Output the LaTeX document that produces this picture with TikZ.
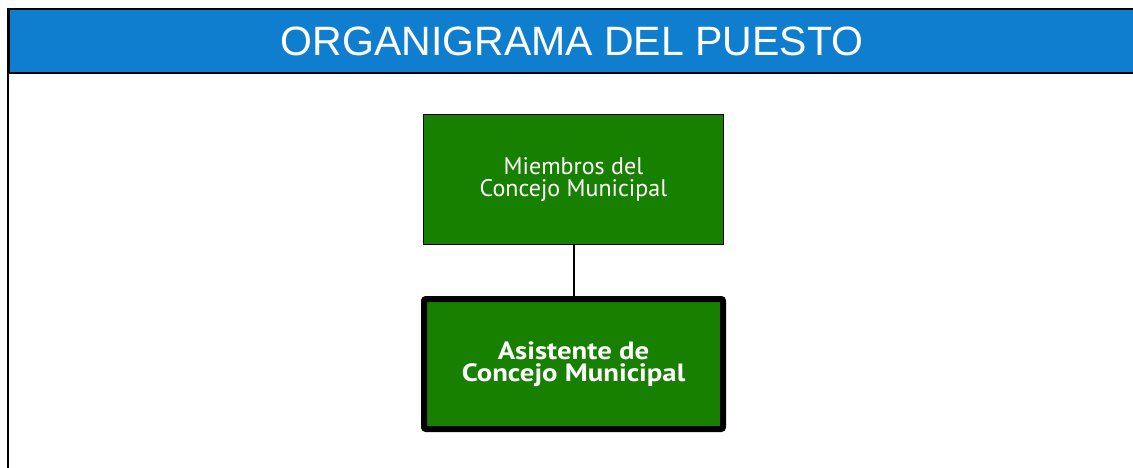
\documentclass[tikz,border=0pt]{standalone}
\usepackage{fontspec}
\setmainfont{PT Sans}
\newfontfamily\titlefont{Liberation Sans}
\newfontfamily\puestofont[FakeStretch=1.15]{PT Sans}
\usepackage{tikz}
\usetikzlibrary{positioning}
\definecolor{bandablue}{RGB}{16,126,206}
\definecolor{cajaverde}{RGB}{24,128,0}

\begin{document}
\begin{tikzpicture}[x=1pt,y=1pt,node distance=184.5pt,on grid,
  banda/.style={draw=black,line width=2pt,fill=bandablue,text=white,minimum width=1127pt,minimum height=64pt,inner sep=0pt,font=\titlefont\fontsize{41}{41}\selectfont},
  marco/.style={draw=black,line width=2pt},
  caja/.style={draw=black,line width=1.8pt,fill=cajaverde,text=white,align=center,minimum width=300pt,minimum height=130pt,font=\fontsize{24}{22}\selectfont},
  puesto/.style={line width=6pt,rounded corners=2pt,minimum width=299pt,font=\puestofont\bfseries\fontsize{25}{21.5}\selectfont},
  conector/.style={draw=black,line width=2pt}]
  \useasboundingbox (0,0) rectangle (1133,-468);
  \clip (0,0) rectangle (1133,-468);
  \node[banda] (banda) at (572,-41) {ORGANIGRAMA DEL PUESTO};
  \draw[marco] (banda.north west) -- ++(0,-470);
  \node[caja] (miembros) at (573.5,-179.5) {Miembros del\\Concejo Municipal};
  \node[caja,puesto] (asistente) [below=of miembros] {Asistente de\\Concejo Municipal};
  \path[conector] (miembros) edge (asistente);
\end{tikzpicture}
\end{document}
